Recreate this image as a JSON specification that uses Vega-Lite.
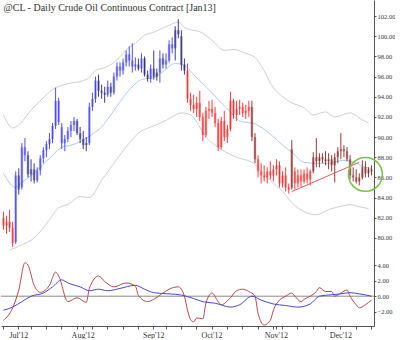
{
  "$schema": "https://vega.github.io/schema/vega-lite/v6.json",
  "padding": 0,
  "background": "white",
  "title": {"text": "@CL - Daily  Crude Oil Continuous Contract [Jan13]", "anchor": "start", "font": "Liberation Serif", "fontSize": 10, "fontWeight": "normal", "color": "#333333", "offset": -13, "dx": 3},
  "config": {
    "view": {"stroke": null},
    "axis": {"domainColor": "#555555", "tickColor": "#555555", "labelColor": "#333333", "labelFont": "Liberation Serif", "labelFontSize": 7, "tickSize": 2, "labelPadding": 1, "grid": false, "title": null, "labelOverlap": false}
  },
  "datasets": {
    "px": [
      {"d":"2012-06-25","o":82.0,"h":82.6,"l":80.8,"c":81.2,"t":"R"},
      {"d":"2012-06-26","o":81.2,"h":82.2,"l":80.4,"c":81.6,"t":"R"},
      {"d":"2012-06-27","o":81.6,"h":82.8,"l":80.6,"c":81.0,"t":"R"},
      {"d":"2012-06-28","o":81.0,"h":81.6,"l":79.1,"c":79.5,"t":"R"},
      {"d":"2012-06-29","o":79.6,"h":86.6,"l":79.4,"c":86.2,"t":"B"},
      {"d":"2012-07-02","o":86.2,"h":86.9,"l":84.3,"c":84.8,"t":"N"},
      {"d":"2012-07-03","o":85.0,"h":89.4,"l":84.8,"c":89.0,"t":"B"},
      {"d":"2012-07-05","o":89.0,"h":89.9,"l":87.6,"c":88.2,"t":"B"},
      {"d":"2012-07-06","o":88.2,"h":88.6,"l":86.0,"c":86.3,"t":"N"},
      {"d":"2012-07-09","o":86.3,"h":87.8,"l":85.6,"c":86.8,"t":"N"},
      {"d":"2012-07-10","o":86.8,"h":87.4,"l":85.4,"c":85.7,"t":"N"},
      {"d":"2012-07-11","o":85.7,"h":87.0,"l":85.5,"c":86.7,"t":"B"},
      {"d":"2012-07-12","o":86.7,"h":88.2,"l":86.2,"c":87.9,"t":"B"},
      {"d":"2012-07-13","o":87.9,"h":89.0,"l":87.4,"c":88.7,"t":"B"},
      {"d":"2012-07-16","o":88.7,"h":89.6,"l":88.0,"c":89.3,"t":"B"},
      {"d":"2012-07-17","o":89.3,"h":90.4,"l":88.8,"c":89.8,"t":"B"},
      {"d":"2012-07-18","o":89.8,"h":91.4,"l":89.4,"c":91.1,"t":"B"},
      {"d":"2012-07-19","o":91.1,"h":94.9,"l":90.8,"c":93.6,"t":"B"},
      {"d":"2012-07-20","o":93.6,"h":93.9,"l":91.2,"c":91.5,"t":"B"},
      {"d":"2012-07-23","o":91.0,"h":91.4,"l":88.8,"c":89.4,"t":"B"},
      {"d":"2012-07-24","o":89.4,"h":90.2,"l":88.6,"c":89.8,"t":"B"},
      {"d":"2012-07-25","o":89.8,"h":91.0,"l":89.5,"c":90.6,"t":"B"},
      {"d":"2012-07-26","o":90.6,"h":91.6,"l":90.0,"c":91.2,"t":"B"},
      {"d":"2012-07-27","o":91.2,"h":92.0,"l":90.6,"c":91.6,"t":"B"},
      {"d":"2012-07-30","o":91.6,"h":91.8,"l":90.2,"c":90.4,"t":"N"},
      {"d":"2012-07-31","o":90.4,"h":91.0,"l":89.4,"c":89.8,"t":"N"},
      {"d":"2012-08-01","o":89.8,"h":90.6,"l":88.8,"c":89.2,"t":"N"},
      {"d":"2012-08-02","o":89.2,"h":90.0,"l":88.6,"c":89.4,"t":"N"},
      {"d":"2012-08-03","o":89.4,"h":93.4,"l":89.2,"c":93.0,"t":"B"},
      {"d":"2012-08-06","o":93.0,"h":94.4,"l":92.6,"c":93.8,"t":"B"},
      {"d":"2012-08-07","o":93.8,"h":96.0,"l":93.4,"c":95.6,"t":"B"},
      {"d":"2012-08-08","o":95.6,"h":96.2,"l":94.0,"c":94.6,"t":"N"},
      {"d":"2012-08-09","o":94.6,"h":95.2,"l":93.8,"c":94.4,"t":"N"},
      {"d":"2012-08-10","o":94.4,"h":95.0,"l":93.4,"c":94.2,"t":"N"},
      {"d":"2012-08-13","o":94.2,"h":95.6,"l":94.0,"c":95.0,"t":"B"},
      {"d":"2012-08-14","o":95.0,"h":95.4,"l":94.0,"c":94.4,"t":"N"},
      {"d":"2012-08-15","o":94.4,"h":96.4,"l":94.2,"c":96.0,"t":"B"},
      {"d":"2012-08-16","o":96.0,"h":97.4,"l":95.6,"c":97.0,"t":"B"},
      {"d":"2012-08-17","o":97.0,"h":97.4,"l":96.0,"c":96.6,"t":"B"},
      {"d":"2012-08-20","o":96.6,"h":97.8,"l":96.2,"c":97.4,"t":"B"},
      {"d":"2012-08-21","o":97.4,"h":98.6,"l":97.0,"c":98.2,"t":"B"},
      {"d":"2012-08-22","o":98.2,"h":99.0,"l":97.0,"c":97.6,"t":"B"},
      {"d":"2012-08-23","o":97.6,"h":99.3,"l":96.4,"c":97.0,"t":"B"},
      {"d":"2012-08-24","o":97.0,"h":97.9,"l":96.6,"c":97.2,"t":"B"},
      {"d":"2012-08-27","o":97.2,"h":97.8,"l":96.6,"c":96.8,"t":"N"},
      {"d":"2012-08-28","o":96.8,"h":98.3,"l":96.4,"c":97.8,"t":"B"},
      {"d":"2012-08-29","o":97.8,"h":98.0,"l":96.0,"c":96.2,"t":"N"},
      {"d":"2012-08-30","o":96.2,"h":96.6,"l":95.5,"c":95.8,"t":"N"},
      {"d":"2012-08-31","o":95.8,"h":97.2,"l":95.4,"c":96.8,"t":"B"},
      {"d":"2012-09-04","o":96.8,"h":98.6,"l":95.7,"c":96.0,"t":"N"},
      {"d":"2012-09-05","o":96.0,"h":96.8,"l":95.6,"c":96.4,"t":"N"},
      {"d":"2012-09-06","o":96.4,"h":98.6,"l":95.4,"c":97.8,"t":"B"},
      {"d":"2012-09-07","o":97.8,"h":98.3,"l":96.8,"c":97.2,"t":"N"},
      {"d":"2012-09-10","o":97.2,"h":98.3,"l":96.8,"c":97.6,"t":"B"},
      {"d":"2012-09-11","o":97.6,"h":99.6,"l":97.4,"c":99.2,"t":"B"},
      {"d":"2012-09-12","o":99.2,"h":99.9,"l":98.3,"c":98.8,"t":"B"},
      {"d":"2012-09-13","o":98.8,"h":101.0,"l":97.6,"c":100.6,"t":"N"},
      {"d":"2012-09-14","o":100.6,"h":101.7,"l":99.8,"c":100.2,"t":"N"},
      {"d":"2012-09-17","o":100.0,"h":100.6,"l":96.6,"c":97.2,"t":"N"},
      {"d":"2012-09-18","o":97.2,"h":97.8,"l":96.2,"c":96.6,"t":"N"},
      {"d":"2012-09-19","o":96.6,"h":97.3,"l":93.4,"c":93.8,"t":"R"},
      {"d":"2012-09-20","o":93.8,"h":94.4,"l":92.6,"c":93.2,"t":"R"},
      {"d":"2012-09-21","o":93.2,"h":94.2,"l":92.4,"c":92.8,"t":"R"},
      {"d":"2012-09-24","o":92.8,"h":94.0,"l":92.0,"c":93.4,"t":"R"},
      {"d":"2012-09-25","o":93.4,"h":94.6,"l":91.6,"c":92.0,"t":"R"},
      {"d":"2012-09-26","o":92.0,"h":92.4,"l":89.6,"c":90.2,"t":"R"},
      {"d":"2012-09-27","o":90.2,"h":93.0,"l":90.0,"c":92.6,"t":"R"},
      {"d":"2012-09-28","o":92.6,"h":93.6,"l":91.8,"c":92.8,"t":"R"},
      {"d":"2012-10-01","o":92.8,"h":93.7,"l":92.0,"c":92.4,"t":"R"},
      {"d":"2012-10-02","o":92.4,"h":93.0,"l":91.0,"c":91.4,"t":"R"},
      {"d":"2012-10-03","o":91.4,"h":91.8,"l":88.6,"c":89.0,"t":"R"},
      {"d":"2012-10-04","o":89.0,"h":92.0,"l":88.8,"c":91.6,"t":"R"},
      {"d":"2012-10-05","o":91.6,"h":92.6,"l":89.6,"c":90.0,"t":"R"},
      {"d":"2012-10-08","o":90.0,"h":91.2,"l":89.4,"c":90.8,"t":"R"},
      {"d":"2012-10-09","o":90.8,"h":94.5,"l":90.6,"c":93.6,"t":"R"},
      {"d":"2012-10-10","o":93.6,"h":93.8,"l":91.8,"c":92.2,"t":"R"},
      {"d":"2012-10-11","o":92.2,"h":93.6,"l":91.6,"c":92.8,"t":"R"},
      {"d":"2012-10-12","o":92.8,"h":93.7,"l":92.2,"c":93.0,"t":"R"},
      {"d":"2012-10-15","o":93.0,"h":93.4,"l":92.0,"c":92.4,"t":"R"},
      {"d":"2012-10-16","o":92.4,"h":93.2,"l":91.8,"c":92.6,"t":"R"},
      {"d":"2012-10-17","o":92.6,"h":93.6,"l":92.0,"c":93.0,"t":"R"},
      {"d":"2012-10-18","o":93.0,"h":93.6,"l":89.6,"c":90.0,"t":"M"},
      {"d":"2012-10-19","o":90.0,"h":90.4,"l":87.4,"c":87.8,"t":"M"},
      {"d":"2012-10-22","o":87.8,"h":88.2,"l":86.0,"c":86.6,"t":"R"},
      {"d":"2012-10-23","o":86.6,"h":87.4,"l":85.4,"c":86.2,"t":"R"},
      {"d":"2012-10-24","o":86.2,"h":87.2,"l":85.6,"c":86.0,"t":"R"},
      {"d":"2012-10-25","o":86.0,"h":87.0,"l":85.4,"c":86.6,"t":"R"},
      {"d":"2012-10-26","o":86.6,"h":87.6,"l":85.8,"c":86.2,"t":"R"},
      {"d":"2012-10-31","o":86.2,"h":87.2,"l":85.6,"c":86.8,"t":"R"},
      {"d":"2012-11-01","o":86.8,"h":87.8,"l":86.2,"c":87.2,"t":"R"},
      {"d":"2012-11-02","o":87.2,"h":87.6,"l":85.0,"c":85.4,"t":"R"},
      {"d":"2012-11-05","o":85.4,"h":86.6,"l":85.0,"c":86.2,"t":"R"},
      {"d":"2012-11-06","o":86.2,"h":87.0,"l":84.6,"c":85.0,"t":"R"},
      {"d":"2012-11-07","o":85.0,"h":85.4,"l":84.4,"c":84.8,"t":"R"},
      {"d":"2012-11-08","o":85.0,"h":89.7,"l":84.8,"c":88.8,"t":"M"},
      {"d":"2012-11-09","o":86.6,"h":87.0,"l":84.8,"c":85.4,"t":"R"},
      {"d":"2012-11-12","o":85.4,"h":86.8,"l":85.0,"c":86.2,"t":"R"},
      {"d":"2012-11-13","o":86.2,"h":86.8,"l":85.0,"c":85.6,"t":"R"},
      {"d":"2012-11-14","o":85.6,"h":86.8,"l":85.4,"c":86.4,"t":"R"},
      {"d":"2012-11-15","o":86.4,"h":87.0,"l":85.4,"c":85.8,"t":"R"},
      {"d":"2012-11-16","o":85.8,"h":86.8,"l":85.2,"c":86.6,"t":"R"},
      {"d":"2012-11-19","o":86.6,"h":88.5,"l":86.4,"c":88.0,"t":"M"},
      {"d":"2012-11-20","o":88.0,"h":89.9,"l":87.0,"c":87.6,"t":"M"},
      {"d":"2012-11-21","o":87.6,"h":88.4,"l":87.0,"c":88.0,"t":"M"},
      {"d":"2012-11-23","o":88.0,"h":88.4,"l":87.4,"c":87.8,"t":"M"},
      {"d":"2012-11-26","o":87.8,"h":88.6,"l":87.2,"c":87.6,"t":"M"},
      {"d":"2012-11-27","o":87.6,"h":88.4,"l":86.8,"c":87.8,"t":"M"},
      {"d":"2012-11-28","o":87.8,"h":88.2,"l":86.6,"c":87.2,"t":"M"},
      {"d":"2012-11-29","o":87.2,"h":88.4,"l":85.5,"c":88.0,"t":"M"},
      {"d":"2012-11-30","o":88.0,"h":89.0,"l":87.4,"c":88.6,"t":"M"},
      {"d":"2012-12-03","o":88.6,"h":90.4,"l":87.8,"c":88.8,"t":"M"},
      {"d":"2012-12-04","o":88.8,"h":89.2,"l":88.0,"c":88.6,"t":"M"},
      {"d":"2012-12-05","o":88.6,"h":89.0,"l":87.6,"c":87.8,"t":"M"},
      {"d":"2012-12-06","o":87.8,"h":88.2,"l":85.8,"c":86.2,"t":"M"},
      {"d":"2012-12-07","o":86.2,"h":87.0,"l":85.6,"c":86.0,"t":"M"},
      {"d":"2012-12-10","o":86.0,"h":86.8,"l":85.4,"c":85.6,"t":"M"},
      {"d":"2012-12-11","o":85.6,"h":86.4,"l":85.2,"c":86.0,"t":"M"},
      {"d":"2012-12-12","o":86.0,"h":87.7,"l":85.8,"c":87.0,"t":"M"},
      {"d":"2012-12-13","o":87.0,"h":87.6,"l":86.0,"c":86.4,"t":"M"},
      {"d":"2012-12-14","o":86.4,"h":87.0,"l":86.0,"c":86.8,"t":"M"},
      {"d":"2012-12-17","o":86.8,"h":87.2,"l":86.2,"c":86.6,"t":"M"}
    ],
    "bb": [
      {"d":"2012-06-25","k":"u","p":92.2},{"d":"2012-06-28","k":"u","p":90.9},{"d":"2012-07-10","k":"u","p":93.0},
      {"d":"2012-07-19","k":"u","p":94.9},{"d":"2012-07-25","k":"u","p":95.3},{"d":"2012-08-01","k":"u","p":95.6},
      {"d":"2012-08-03","k":"u","p":95.9},{"d":"2012-08-07","k":"u","p":96.6},{"d":"2012-08-10","k":"u","p":96.9},
      {"d":"2012-08-15","k":"u","p":97.4},{"d":"2012-08-22","k":"u","p":98.9},{"d":"2012-08-24","k":"u","p":99.3},
      {"d":"2012-08-29","k":"u","p":100.1},{"d":"2012-09-04","k":"u","p":100.4},{"d":"2012-09-11","k":"u","p":101.1},
      {"d":"2012-09-14","k":"u","p":101.4},{"d":"2012-09-18","k":"u","p":100.9},{"d":"2012-09-26","k":"u","p":100.3},
      {"d":"2012-10-01","k":"u","p":99.6},{"d":"2012-10-05","k":"u","p":98.6},{"d":"2012-10-10","k":"u","p":98.7},
      {"d":"2012-10-16","k":"u","p":98.3},{"d":"2012-10-19","k":"u","p":97.9},{"d":"2012-10-23","k":"u","p":97.1},
      {"d":"2012-10-31","k":"u","p":94.9},{"d":"2012-11-05","k":"u","p":94.0},{"d":"2012-11-08","k":"u","p":93.4},
      {"d":"2012-11-14","k":"u","p":92.9},{"d":"2012-11-19","k":"u","p":92.2},{"d":"2012-11-26","k":"u","p":92.5},
      {"d":"2012-11-29","k":"u","p":92.0},{"d":"2012-12-06","k":"u","p":92.4},{"d":"2012-12-12","k":"u","p":91.7},
      {"d":"2012-12-14","k":"u","p":91.4},
      {"d":"2012-06-25","k":"m","p":86.4},{"d":"2012-06-29","k":"m","p":85.0},{"d":"2012-07-03","k":"m","p":85.5},
      {"d":"2012-07-09","k":"m","p":86.2},{"d":"2012-07-12","k":"m","p":87.0},{"d":"2012-07-18","k":"m","p":88.2},
      {"d":"2012-07-23","k":"m","p":89.0},{"d":"2012-07-26","k":"m","p":89.2},{"d":"2012-08-01","k":"m","p":89.7},
      {"d":"2012-08-06","k":"m","p":90.3},{"d":"2012-08-09","k":"m","p":91.0},{"d":"2012-08-14","k":"m","p":92.2},
      {"d":"2012-08-17","k":"m","p":93.5},{"d":"2012-08-23","k":"m","p":95.0},{"d":"2012-08-28","k":"m","p":95.7},
      {"d":"2012-09-04","k":"m","p":95.9},{"d":"2012-09-07","k":"m","p":96.5},{"d":"2012-09-13","k":"m","p":97.3},
      {"d":"2012-09-18","k":"m","p":97.1},{"d":"2012-09-21","k":"m","p":96.2},{"d":"2012-09-26","k":"m","p":95.3},
      {"d":"2012-10-01","k":"m","p":94.4},{"d":"2012-10-04","k":"m","p":93.4},{"d":"2012-10-09","k":"m","p":92.5},
      {"d":"2012-10-12","k":"m","p":91.6},{"d":"2012-10-19","k":"m","p":91.3},{"d":"2012-10-26","k":"m","p":90.3},
      {"d":"2012-11-05","k":"m","p":89.2},{"d":"2012-11-08","k":"m","p":88.5},{"d":"2012-11-14","k":"m","p":87.5},
      {"d":"2012-11-20","k":"m","p":87.4},{"d":"2012-11-27","k":"m","p":87.4},{"d":"2012-12-04","k":"m","p":87.7},
      {"d":"2012-12-10","k":"m","p":87.4},{"d":"2012-12-13","k":"m","p":87.0},{"d":"2012-12-17","k":"m","p":86.9},
      {"d":"2012-06-27","k":"l","p":78.8},{"d":"2012-07-03","k":"l","p":79.3},{"d":"2012-07-10","k":"l","p":80.0},
      {"d":"2012-07-17","k":"l","p":81.8},{"d":"2012-07-20","k":"l","p":83.0},{"d":"2012-07-25","k":"l","p":83.3},
      {"d":"2012-07-31","k":"l","p":84.1},{"d":"2012-08-03","k":"l","p":84.0},{"d":"2012-08-09","k":"l","p":85.7},
      {"d":"2012-08-15","k":"l","p":87.4},{"d":"2012-08-22","k":"l","p":89.4},{"d":"2012-08-27","k":"l","p":90.4},
      {"d":"2012-08-31","k":"l","p":91.0},{"d":"2012-09-07","k":"l","p":91.5},{"d":"2012-09-12","k":"l","p":92.0},
      {"d":"2012-09-17","k":"l","p":92.4},{"d":"2012-09-20","k":"l","p":92.2},{"d":"2012-09-25","k":"l","p":91.0},
      {"d":"2012-09-27","k":"l","p":90.0},{"d":"2012-10-02","k":"l","p":89.2},{"d":"2012-10-11","k":"l","p":88.0},
      {"d":"2012-10-18","k":"l","p":87.5},{"d":"2012-10-26","k":"l","p":85.7},{"d":"2012-11-05","k":"l","p":84.6},
      {"d":"2012-11-08","k":"l","p":83.5},{"d":"2012-11-14","k":"l","p":82.6},{"d":"2012-11-20","k":"l","p":82.3},
      {"d":"2012-11-27","k":"l","p":82.8},{"d":"2012-12-04","k":"l","p":83.2},{"d":"2012-12-06","k":"l","p":83.3},
      {"d":"2012-12-11","k":"l","p":83.1},{"d":"2012-12-14","k":"l","p":82.9}
    ],
    "tl": [{"d":"2012-11-08","p":84.6},{"d":"2012-12-11","p":87.5}],
    "ring": [{"d":"2012-12-13","p":86.3}],
    "zero": [{"v":0}],
    "osc": [
      {"d":"2012-06-25","k":"r","v":-3.1},{"d":"2012-06-28","k":"r","v":-1.5},{"d":"2012-07-02","k":"r","v":0.8},
      {"d":"2012-07-05","k":"r","v":4.3},{"d":"2012-07-06","k":"r","v":4.0},{"d":"2012-07-10","k":"r","v":1.4},
      {"d":"2012-07-12","k":"r","v":0.5},{"d":"2012-07-17","k":"r","v":1.4},{"d":"2012-07-19","k":"r","v":3.1},
      {"d":"2012-07-20","k":"r","v":2.6},{"d":"2012-07-25","k":"r","v":-0.7},{"d":"2012-07-30","k":"r","v":-0.2},
      {"d":"2012-08-02","k":"r","v":-0.8},{"d":"2012-08-03","k":"r","v":1.0},{"d":"2012-08-08","k":"r","v":2.6},
      {"d":"2012-08-10","k":"r","v":1.9},{"d":"2012-08-15","k":"r","v":1.2},{"d":"2012-08-21","k":"r","v":1.7},
      {"d":"2012-08-24","k":"r","v":1.3},{"d":"2012-08-27","k":"r","v":0.1},{"d":"2012-08-30","k":"r","v":-0.7},
      {"d":"2012-09-04","k":"r","v":-0.4},{"d":"2012-09-07","k":"r","v":0.4},{"d":"2012-09-11","k":"r","v":0.9},
      {"d":"2012-09-14","k":"r","v":1.2},{"d":"2012-09-18","k":"r","v":0.0},{"d":"2012-09-19","k":"r","v":-1.8},
      {"d":"2012-09-20","k":"r","v":-3.0},{"d":"2012-09-21","k":"r","v":-3.3},{"d":"2012-09-24","k":"r","v":-2.8},
      {"d":"2012-09-26","k":"r","v":-2.9},{"d":"2012-09-27","k":"r","v":-0.9},{"d":"2012-10-01","k":"r","v":0.4},
      {"d":"2012-10-03","k":"r","v":-0.7},{"d":"2012-10-04","k":"r","v":-1.1},{"d":"2012-10-09","k":"r","v":-0.2},
      {"d":"2012-10-11","k":"r","v":0.7},{"d":"2012-10-15","k":"r","v":0.9},{"d":"2012-10-17","k":"r","v":0.6},
      {"d":"2012-10-19","k":"r","v":0.0},{"d":"2012-10-22","k":"r","v":-2.2},{"d":"2012-10-24","k":"r","v":-3.7},
      {"d":"2012-10-26","k":"r","v":-3.1},{"d":"2012-10-31","k":"r","v":-1.8},{"d":"2012-11-02","k":"r","v":-0.5},
      {"d":"2012-11-06","k":"r","v":0.0},{"d":"2012-11-08","k":"r","v":0.4},{"d":"2012-11-09","k":"r","v":0.0},
      {"d":"2012-11-13","k":"r","v":-0.7},{"d":"2012-11-14","k":"r","v":-0.4},{"d":"2012-11-16","k":"r","v":0.0},
      {"d":"2012-11-20","k":"r","v":0.6},{"d":"2012-11-21","k":"r","v":1.1},{"d":"2012-11-26","k":"r","v":0.6},
      {"d":"2012-11-28","k":"r","v":0.6},{"d":"2012-11-29","k":"r","v":0.0},{"d":"2012-12-03","k":"r","v":0.4},
      {"d":"2012-12-05","k":"r","v":0.8},{"d":"2012-12-06","k":"r","v":0.0},{"d":"2012-12-10","k":"r","v":-1.1},
      {"d":"2012-12-11","k":"r","v":-1.5},{"d":"2012-12-13","k":"r","v":-1.1},{"d":"2012-12-17","k":"r","v":-0.5},
      {"d":"2012-06-25","k":"b","v":-1.8},{"d":"2012-06-28","k":"b","v":-1.4},{"d":"2012-07-03","k":"b","v":-0.7},
      {"d":"2012-07-09","k":"b","v":0.0},{"d":"2012-07-13","k":"b","v":0.4},{"d":"2012-07-18","k":"b","v":1.2},
      {"d":"2012-07-23","k":"b","v":2.1},{"d":"2012-07-25","k":"b","v":1.7},{"d":"2012-07-31","k":"b","v":1.2},
      {"d":"2012-08-03","k":"b","v":0.7},{"d":"2012-08-08","k":"b","v":0.9},{"d":"2012-08-13","k":"b","v":0.7},
      {"d":"2012-08-17","k":"b","v":1.0},{"d":"2012-08-24","k":"b","v":1.4},{"d":"2012-08-29","k":"b","v":0.9},
      {"d":"2012-09-04","k":"b","v":0.45},{"d":"2012-09-11","k":"b","v":0.3},{"d":"2012-09-17","k":"b","v":0.15},
      {"d":"2012-09-21","k":"b","v":-0.3},{"d":"2012-09-26","k":"b","v":-0.7},{"d":"2012-10-02","k":"b","v":-0.9},
      {"d":"2012-10-09","k":"b","v":-1.4},{"d":"2012-10-12","k":"b","v":-1.1},{"d":"2012-10-18","k":"b","v":0.0},
      {"d":"2012-10-23","k":"b","v":-0.5},{"d":"2012-10-31","k":"b","v":-1.0},{"d":"2012-11-06","k":"b","v":-1.2},
      {"d":"2012-11-12","k":"b","v":-1.4},{"d":"2012-11-16","k":"b","v":-1.0},{"d":"2012-11-21","k":"b","v":0.0},
      {"d":"2012-11-27","k":"b","v":0.15},{"d":"2012-12-03","k":"b","v":0.3},{"d":"2012-12-06","k":"b","v":0.45},
      {"d":"2012-12-11","k":"b","v":0.3},{"d":"2012-12-17","k":"b","v":0.0}
    ]
  },
  "resolve": {"scale": {"x": "shared", "color": "independent"}},
  "spacing": 0,
  "vconcat": [
    {
      "width": 373,
      "height": 252,
      "layer": [
        {
          "data": {"name": "bb"},
          "transform": [{"filter": "datum.k != 'm'"}],
          "mark": {"type": "line", "color": "#cfcfcf", "strokeWidth": 1, "interpolate": "monotone"},
          "encoding": {
            "x": {"field": "d", "type": "ordinal", "scale": {"type": "band", "paddingInner": 0, "paddingOuter": 0.3}, "axis": null},
            "y": {"field": "p", "type": "quantitative", "scale": {"domain": [78.6, 103.6], "nice": false, "zero": false}, "axis": {"orient": "right", "values": [80,82,84,86,88,90,92,94,96,98,100,102], "tickCount": 30, "format": ".2f", "labelOverlap": false, "labelFontSize": 6.5}},
            "detail": {"field": "k"}
          }
        },
        {
          "data": {"name": "bb"},
          "transform": [{"filter": "datum.k == 'm'"}],
          "mark": {"type": "line", "color": "#a9cdf2", "strokeWidth": 1, "interpolate": "monotone"},
          "encoding": {
            "x": {"field": "d", "type": "ordinal"},
            "y": {"field": "p", "type": "quantitative"}
          }
        },
        {
          "data": {"name": "px"},
          "mark": {"type": "rule", "strokeWidth": 1, "opacity": 0.85},
          "encoding": {
            "x": {"field": "d", "type": "ordinal"},
            "y": {"field": "l", "type": "quantitative"},
            "y2": {"field": "h"},
            "color": {"field": "t", "type": "nominal", "scale": {"domain": ["B","N","R","M"], "range": ["#3030ff","#1a1a80","#ff1a1a","#801818"]}, "legend": null}
          }
        },
        {
          "data": {"name": "px"},
          "mark": {"type": "bar", "width": {"band": 0.8}, "opacity": 0.45},
          "encoding": {
            "x": {"field": "d", "type": "ordinal"},
            "y": {"field": "o", "type": "quantitative"},
            "y2": {"field": "c"},
            "color": {"field": "t", "type": "nominal", "legend": null}
          }
        },
        {
          "data": {"name": "tl"},
          "mark": {"type": "line", "color": "#e65a5a", "strokeWidth": 1},
          "encoding": {
            "x": {"field": "d", "type": "ordinal"},
            "y": {"field": "p", "type": "quantitative"}
          }
        },
        {
          "data": {"name": "ring"},
          "mark": {"type": "point", "shape": "circle", "filled": false, "size": 1150, "stroke": "#7cc242", "strokeWidth": 1.5, "opacity": 1},
          "encoding": {
            "x": {"field": "d", "type": "ordinal"},
            "y": {"field": "p", "type": "quantitative"}
          }
        }
      ]
    },
    {
      "width": 373,
      "height": 74,
      "layer": [
        {
          "data": {"name": "zero"},
          "mark": {"type": "rule", "color": "#8a8a8a", "strokeWidth": 1},
          "encoding": {
            "y": {"field": "v", "type": "quantitative", "scale": {"domain": [-3.83, 5.68], "nice": false, "zero": false}, "axis": {"orient": "right", "values": [-2, 0, 2, 4], "tickCount": 30, "format": ".2f", "labelOverlap": false, "labelFontSize": 6.5}}
          }
        },
        {
          "data": {"name": "osc"},
          "mark": {"type": "line", "strokeWidth": 1, "interpolate": "monotone"},
          "encoding": {
            "x": {"field": "d", "type": "ordinal", "axis": {"orient": "bottom", "labelAngle": 0, "tickSize": 3, "labelPadding": 2, "labelFontSize": 8, "labelOverlap": false,
              "values": ["2012-06-25","2012-07-02","2012-07-09","2012-07-16","2012-07-23","2012-07-30","2012-08-01","2012-08-06","2012-08-13","2012-08-20","2012-08-27","2012-09-04","2012-09-10","2012-09-17","2012-09-24","2012-10-01","2012-10-08","2012-10-15","2012-10-22","2012-10-31","2012-11-01","2012-11-05","2012-11-12","2012-11-19","2012-11-26","2012-12-03","2012-12-10","2012-12-17"],
              "labelExpr": "datum.value == '2012-07-02' ? \"Jul'12\" : datum.value == '2012-08-01' ? \"Aug'12\" : datum.value == '2012-09-04' ? \"Sep'12\" : datum.value == '2012-10-01' ? \"Oct'12\" : datum.value == '2012-11-01' ? \"Nov'12\" : datum.value == '2012-12-03' ? \"Dec'12\" : ''"}},
            "y": {"field": "v", "type": "quantitative"},
            "color": {"field": "k", "type": "nominal", "scale": {"domain": ["r","b"], "range": ["#b8484a","#4848c8"]}, "legend": null}
          }
        }
      ]
    }
  ]
}
